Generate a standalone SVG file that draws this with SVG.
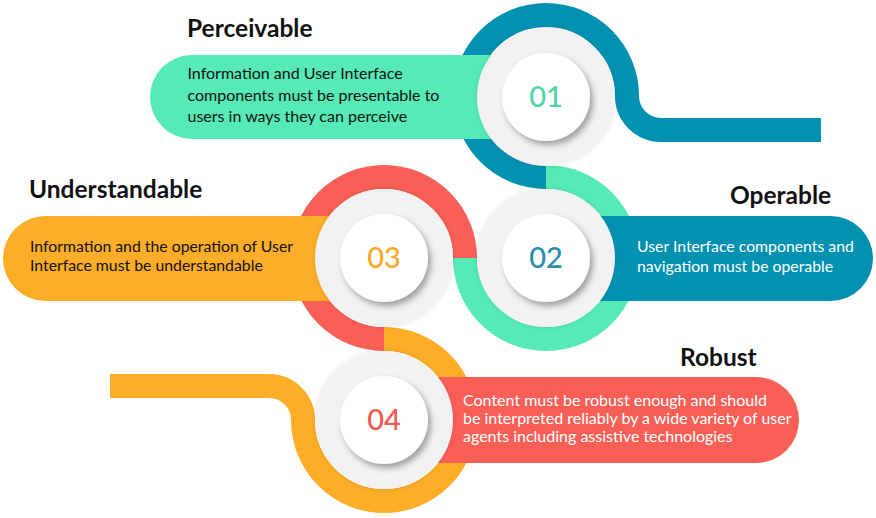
<svg xmlns="http://www.w3.org/2000/svg" width="876" height="518" viewBox="0 0 876 518">
<defs>
<style>
.ring{fill:none;stroke-width:24;stroke-linecap:butt;stroke-linejoin:round}
.gray{fill:#F2F2F2}
.white{fill:#FFFFFF}
.title{font-family:Lato,"Liberation Sans",sans-serif;font-weight:bold;font-size:24.5px;fill:#111}
.body{font-family:Lato,"Liberation Sans",sans-serif;font-size:16px}
.num{font-family:Lato,"Liberation Sans",sans-serif;font-size:29px;text-anchor:middle;font-weight:500}
</style>
<filter id="sh1" x="-30%" y="-30%" width="160%" height="160%">
<feDropShadow dx="0" dy="0" stdDeviation="2" flood-color="#000" flood-opacity="0.12"/>
</filter>
<filter id="sh2" x="-30%" y="-30%" width="160%" height="160%">
<feDropShadow dx="3" dy="4" stdDeviation="3" flood-color="#000" flood-opacity="0.35"/>
</filter>
</defs>
<rect width="876" height="518" fill="#FFFFFF"/>
<g id="connectors">
<path class="ring" stroke="#0391B1" d="M546,177 A81,81 0 1 1 627,96 A34,34 0 0 0 661,130 L821,130"/>
<path class="ring" stroke="#55EAB6" d="M546,177 A81,81 0 1 1 465,258"/>
<path class="ring" stroke="#F85F56" d="M465,258 A81,81 0 1 0 384,339"/>
<path class="ring" stroke="#FDAD27" d="M384,339 A81,81 0 1 1 303,420 A34,34 0 0 0 269,386 L110,386"/>
</g>
<g id="node-01">
<path fill="#55EAB6" d="M192,55 H546 V139 H192 A42,42 0 0 1 192,55 Z"/>
<circle class="gray" cx="546" cy="97" r="69" filter="url(#sh1)"/>
<circle class="white" cx="546" cy="97" r="44" filter="url(#sh2)"/>
<text class="num" x="546" y="107" fill="#4BD8A4">01</text>
<text class="title" x="187" y="37">Perceivable</text>
<text class="body" fill="#111">
<tspan x="187.5" y="79">Information and User Interface</tspan>
<tspan x="187.5" y="101">components must be presentable to</tspan>
<tspan x="187.5" y="122">users in ways they can perceive</tspan>
</text>
</g>
<g id="node-02">
<path fill="#0391B1" d="M546,216 H830.5 A42.5,42.5 0 0 1 830.5,301 H546 Z"/>
<circle class="gray" cx="546" cy="258" r="69" filter="url(#sh1)"/>
<circle class="white" cx="546" cy="258" r="44" filter="url(#sh2)"/>
<text class="num" x="546" y="268" fill="#2A8DB0">02</text>
<text class="title" x="730" y="204">Operable</text>
<text class="body" fill="#FFFFFF" style="font-size:15.8px">
<tspan x="637" y="251.5">User Interface components and</tspan>
<tspan x="637" y="271.5">navigation must be operable</tspan>
</text>
</g>
<g id="node-03">
<path fill="#FDAD27" d="M45.5,216 H384 V301 H45.5 A42.5,42.5 0 0 1 45.5,216 Z"/>
<circle class="gray" cx="384" cy="258" r="69" filter="url(#sh1)"/>
<circle class="white" cx="384" cy="258" r="44" filter="url(#sh2)"/>
<text class="num" x="384" y="268" fill="#FBA826">03</text>
<text class="title" x="29" y="198">Understandable</text>
<text class="body" fill="#111" style="font-size:15.8px">
<tspan x="30" y="251.5">Information and the operation of User</tspan>
<tspan x="30" y="270.5">Interface must be understandable</tspan>
</text>
</g>
<g id="node-04">
<path fill="#F85F56" d="M384,377 H756 A43,43 0 0 1 756,463 H384 Z"/>
<circle class="gray" cx="384" cy="420" r="69" filter="url(#sh1)"/>
<circle class="white" cx="384" cy="420" r="44" filter="url(#sh2)"/>
<text class="num" x="384" y="430" fill="#F2574F">04</text>
<text class="title" x="680" y="366">Robust</text>
<text class="body" fill="#FFFFFF">
<tspan x="463" y="405.5">Content must be robust enough and should</tspan>
<tspan x="463" y="423.5">be interpreted reliably by a wide variety of user</tspan>
<tspan x="463" y="441.5">agents including assistive technologies</tspan>
</text>
</g>
</svg>
